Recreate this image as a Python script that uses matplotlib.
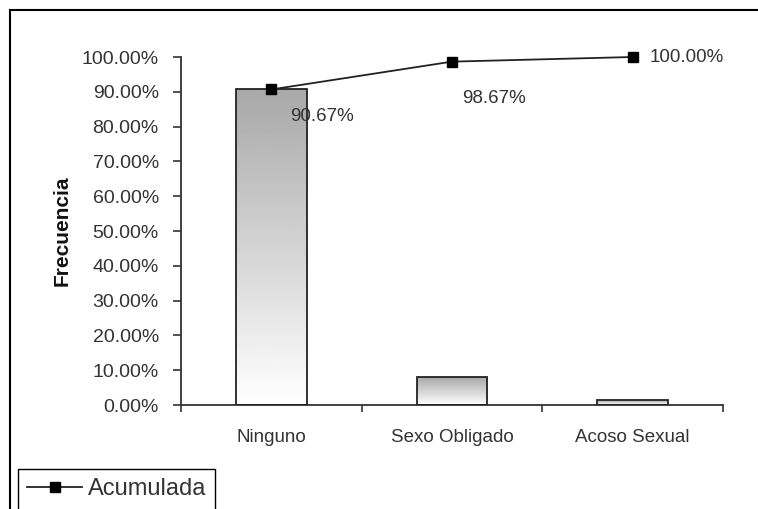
import numpy as np
import matplotlib
matplotlib.use("Agg")
import matplotlib.pyplot as plt
from matplotlib.lines import Line2D
from matplotlib.ticker import FuncFormatter, FixedLocator

# data
categories = ["Ninguno", "Sexo Obligado", "Acoso Sexual"]
frecuencia = [0.9067, 0.0800, 0.0133]
acumulada = [0.9067, 0.9867, 1.0000]
labels = ["90.67%", "98.67%", "100.00%"]

# label offsets in pixels (manual placement like the original)
label_offsets = [(19, -27), (10, -37), (17, 0)]

plt.rcParams['font.family'] = ['Liberation Sans', 'DejaVu Sans']
txt_color = "#333333"

fig = plt.figure(figsize=(7.58, 5.09), dpi=100)
ax = fig.add_axes([181 / 758, 1 - 405 / 509, 542 / 758, 348 / 509])

x = np.arange(len(categories))
bar_w = 0.39

# bars with vertical gradient (gray top -> white bottom)
grad = np.linspace(0.66, 1.0, 256).reshape(-1, 1)
for xi, h in zip(x, frecuencia):
    rect = ax.bar(xi, h, width=bar_w, color="none", edgecolor="#222222",
                  linewidth=1.3, zorder=3)[0]
    im = ax.imshow(grad, cmap="gray", vmin=0, vmax=1, aspect="auto",
                   extent=[xi - bar_w / 2, xi + bar_w / 2, 0, h],
                   origin="upper", zorder=2)
    im.set_clip_path(rect)

# cumulative line
ax.plot(x, acumulada, color="#222222", linewidth=1.3, marker="s",
        markersize=6.5, markerfacecolor="black", markeredgecolor="black",
        zorder=4, label="Acumulada", clip_on=False)

for xi, yi, lab, (dx, dy) in zip(x, acumulada, labels, label_offsets):
    ax.annotate(lab, (xi, yi), xytext=(dx, dy), textcoords="offset pixels",
                ha="left", va="center", fontsize=13.5, color=txt_color, zorder=5)

ax.set_xlim(-0.5, 2.5)
ax.set_ylim(0, 1.0)
ax.yaxis.set_major_locator(FixedLocator(np.arange(0, 1.01, 0.1)))
ax.yaxis.set_major_formatter(FuncFormatter(lambda v, p: f"{v * 100:.2f}%"))
ax.set_xticks(x)
ax.set_xticklabels(categories)
ax.set_xticks([-0.5, 0.5, 1.5, 2.5], minor=True)
ax.tick_params(axis="x", which="major", length=0, pad=17, labelsize=13.5,
               labelcolor=txt_color)
ax.tick_params(axis="x", which="minor", length=5, width=1.2, color="#333333",
               direction="out")
ax.tick_params(axis="y", length=6, width=1.2, color="#333333", pad=10,
               labelsize=14, labelcolor=txt_color)

for s in ["top", "right"]:
    ax.spines[s].set_visible(False)
for s in ["left", "bottom"]:
    ax.spines[s].set_color("#333333")
    ax.spines[s].set_linewidth(1.3)

fig.text(62 / 758, 1 - 231 / 509, "Frecuencia", rotation=90, ha="center",
         va="center", fontsize=15, fontweight="bold", color="#111111")

# outer chart frame (only top and left edges are visible in the crop)
fig.add_artist(Line2D([10 / 758, 1.0], [1 - 10 / 509, 1 - 10 / 509],
                      transform=fig.transFigure, color="black", linewidth=1.5))
fig.add_artist(Line2D([10 / 758, 10 / 758], [0, 1 - 10 / 509],
                      transform=fig.transFigure, color="black", linewidth=1.5))

leg = fig.legend(loc="upper left", bbox_to_anchor=(18 / 758, 1 - 469 / 509),
                 borderaxespad=0, fancybox=False, edgecolor="black",
                 framealpha=1, fontsize=17, handlelength=2.3,
                 handletextpad=0.25, borderpad=0.4)
leg.get_frame().set_linewidth(1.0)
for t in leg.get_texts():
    t.set_color(txt_color)

fig.savefig("out.png", dpi=100)
